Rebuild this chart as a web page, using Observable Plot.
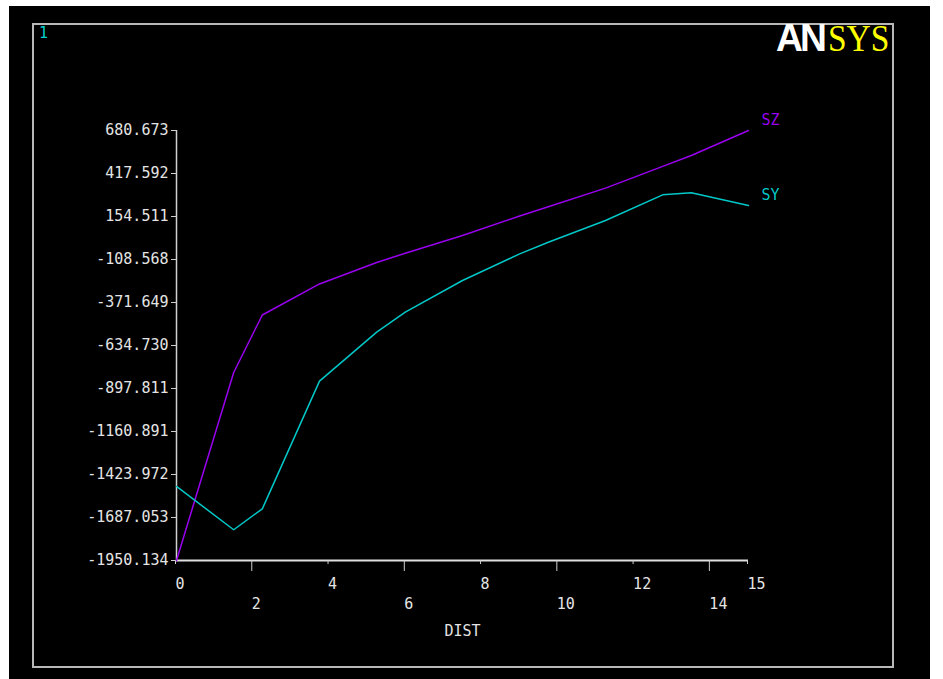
<!DOCTYPE html>
<html>
<head>
<meta charset="utf-8">
<script src="https://cdn.jsdelivr.net/npm/d3@7"></script>
<script src="https://cdn.jsdelivr.net/npm/@observablehq/plot@0.6"></script>
<style>
  html, body { margin: 0; padding: 0; background: #ffffff; }
  #wrap { position: relative; width: 943px; height: 679px; overflow: hidden; }
  #black { position: absolute; left: 9px; top: 6px; width: 921px; height: 673px; background: #000; }
  #frame { position: absolute; left: 32px; top: 23px; width: 858px; height: 641px; border: 2px solid #b8b8b8; }
  #num { position: absolute; left: 39px; top: 24px; color: #00d0d0; font: 15px "DejaVu Sans Mono", monospace; }
  #logo { position: absolute; left: 776px; top: 19px; line-height: 38px; font-size: 38px; white-space: nowrap; }
  #logo .an { color: #fff; font-family: "Liberation Sans", sans-serif; font-weight: bold; letter-spacing: -3px; display: inline-block; transform: scaleX(0.98); transform-origin: left; }
  #logo .sys { color: #ffff00; font-family: "Liberation Serif", serif; display: inline-block; transform: scaleX(0.88); transform-origin: left; margin-left: 3px; }
  #plot { position: absolute; left: 0; top: 0; }
</style>
</head>
<body>
<div id="wrap">
  <div id="black"></div>
  <div id="frame"></div>
  <div id="num">1</div>
  <div id="logo"><span class="an">AN</span><span class="sys">SYS</span></div>
  <div id="plot"></div>
</div>
<script>
// Data
const dist = [0, 1.5, 2.25, 3.75, 5.25, 6, 7.5, 9, 9.75, 11.25, 12.75, 13.5, 15];
const sz = [-1950.134, -800, -448, -258, -127, -70, 38, 158, 214, 328, 461, 528, 680.673];
const sy = [-1497, -1762, -1634, -853, -553, -431, -237, -74, -3, 130, 287, 300, 222];
const yTicks = [-1950.134, -1687.053, -1423.972, -1160.891, -897.811, -634.730, -371.649, -108.568, 154.511, 417.592, 680.673];
const xTicksRow1 = [0, 4, 8, 12, 15];
const xTicksRow2 = [2, 6, 10, 14];
const seriesNames = ["SZ", "SY"];
const xLabel = "DIST";

const rows = [];
dist.forEach((d, i) => {
  rows.push({series: "SZ", dist: d, value: sz[i]});
  rows.push({series: "SY", dist: d, value: sy[i]});
});
const lastPts = seriesNames.map(s => rows.filter(r => r.series === s).slice(-1)[0]);

const colors = {SZ: "#9a00f0", SY: "#00c8c8"};

const chart = Plot.plot({
  width: 943,
  height: 679,
  marginLeft: 176,
  marginRight: 195,
  marginTop: 130,
  marginBottom: 119,
  style: {background: "transparent", color: "#e4e4e4", fontFamily: "'DejaVu Sans Mono', monospace", fontSize: "15px", overflow: "visible"},
  x: {domain: [0, 15]},
  y: {domain: [yTicks[0], yTicks[yTicks.length - 1]]},
  color: {domain: seriesNames, range: seriesNames.map(s => colors[s])},
  marks: [
    Plot.ruleX([0], {stroke: "#d0d0d0", strokeWidth: 1.5}),
    Plot.ruleY([yTicks[0]], {stroke: "#e0e0e0", strokeWidth: 2}),
    Plot.axisY(yTicks, {tickSize: 5, tickPadding: 3, tickFormat: d => d.toFixed(3), label: null, stroke: "#d0d0d0"}),
    Plot.axisX(xTicksRow1, {tickSize: 4, tickPadding: 14, textAnchor: "start", dx: -1, tickFormat: d => String(d), label: null, stroke: "#d0d0d0"}),
    Plot.axisX(xTicksRow2, {tickSize: 11, tickPadding: 27, textAnchor: "start", dx: -1, tickFormat: d => String(d), label: null, stroke: "#d0d0d0"}),
    Plot.line(rows, {x: "dist", y: "value", z: "series", stroke: "series", strokeWidth: 1.5}),
    Plot.text(lastPts, {x: "dist", y: "value", text: "series", fill: "series", textAnchor: "start", dx: 13, dy: -10}),
    Plot.text([xLabel], {frameAnchor: "bottom", dy: 75, fill: "#e4e4e4"})
  ]
});
document.getElementById("plot").appendChild(chart);
</script>
</body>
</html>
